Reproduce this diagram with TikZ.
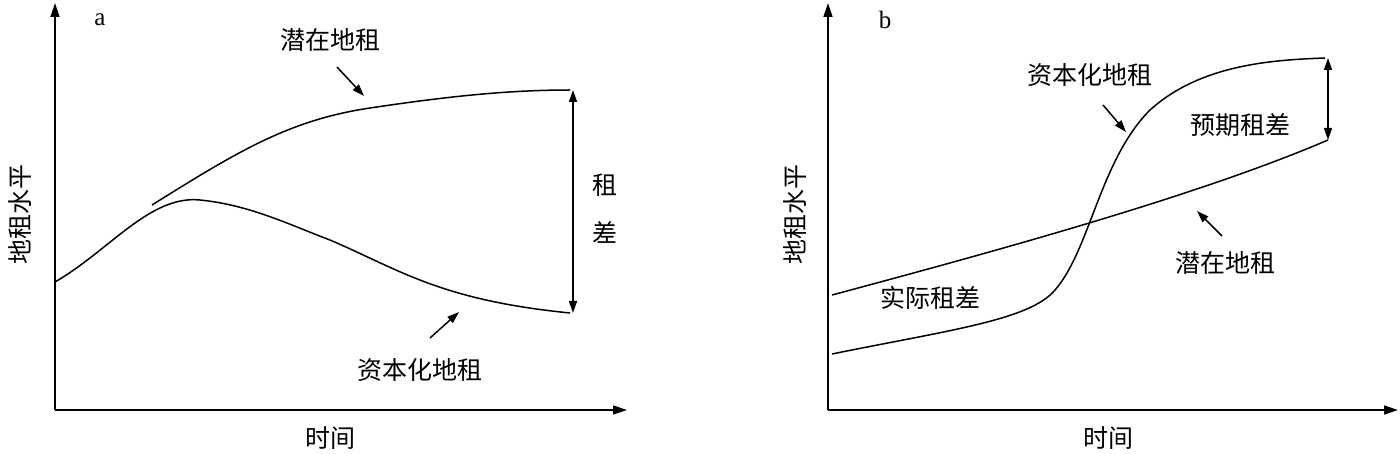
\documentclass[tikz,border=0pt]{standalone}
\usepackage{fontspec}
\setmainfont{Liberation Serif}
\newfontfamily\cjk{Noto Sans CJK SC}
\usetikzlibrary{arrows.meta}
\begin{document}
\begin{tikzpicture}[x=1pt,y=-1pt,
  ax/.style={line width=1.5pt,-{Triangle[length=14pt,width=9pt]}},
  cv/.style={line width=1.5pt},
  lb/.style={font=\cjk\fontsize{25}{25}\selectfont,inner sep=0pt},
  la/.style={font=\fontsize{25}{25}\selectfont,inner sep=0pt},
  pt/.style={line width=1.5pt,-{Triangle[length=12pt,width=8pt]}},
  dbl/.style={line width=1.5pt,{Triangle[length=12pt,width=8pt]}-{Triangle[length=12pt,width=8pt]}}]
\useasboundingbox (0,0) rectangle (1400,454);
% panel a
\coordinate (ao) at (55,410);
\coordinate (ay) at (55,3);
\coordinate (ax) at (627,410);
\draw[ax] (ao) -- (ay);
\draw[ax] (ao) -- (ax);
\node[la] (alab) at (100,20) {a};
\node[lb,rotate=90] (ayl) at (20,215) {地租水平};
\node[lb] (axl) at (330,438) {时间};
\coordinate (p1) at (152,205);
\coordinate (p2) at (570,90);
\draw[cv] (p1) .. controls (240,150) and (290,120) .. (370,108) .. controls (450,96) and (510,90) .. (p2);
\coordinate (c1) at (55,282);
\coordinate (c2) at (570,313);
\draw[cv] (c1) .. controls (110,250) and (150,195) .. (200,200) .. controls (250,205) and (290,225) .. (330,240) .. controls (400,270) and (440,300) .. (c2);
\coordinate (d1) at (573,90);
\coordinate (d2) at (573,313);
\draw[dbl] (d1) -- (d2);
\node[lb] (zu) at (605,185) {租};
\node[lb] (cha) at (605,232) {差};
\node[lb] (qa) at (330,40) {潜在地租};
\coordinate (qa1) at (337,67);
\coordinate (qa2) at (364,96);
\draw[pt] (qa1) -- (qa2);
\node[lb] (za) at (420,370) {资本化地租};
\coordinate (za1) at (430,338);
\coordinate (za2) at (459,312);
\draw[pt] (za1) -- (za2);
% panel b
\coordinate (bo) at (828,410);
\coordinate (by) at (828,3);
\coordinate (bx) at (1398,410);
\draw[ax] (bo) -- (by);
\draw[ax] (bo) -- (bx);
\node[la] (blab) at (885,20) {b};
\node[lb,rotate=90] (byl) at (795,215) {地租水平};
\node[lb] (bxl) at (1108,438) {时间};
\coordinate (q1) at (832,295);
\coordinate (q2) at (1328,140);
\draw[cv] (q1) .. controls (1000,250) and (1200,195) .. (q2);
\coordinate (s1) at (832,354);
\coordinate (s2) at (1325,58);
\draw[cv] (s1) .. controls (950,330) and (1030,320) .. (1055,290) .. controls (1090,250) and (1100,160) .. (1150,110) .. controls (1200,65) and (1270,60) .. (s2);
\coordinate (e1) at (1328,58);
\coordinate (e2) at (1328,140);
\draw[dbl] (e1) -- (e2);
\node[lb] (zb) at (1090,75) {资本化地租};
\coordinate (zb1) at (1103,105);
\coordinate (zb2) at (1126,132);
\draw[pt] (zb1) -- (zb2);
\node[lb] (yq) at (1240,125) {预期租差};
\node[lb] (qb) at (1225,263) {潜在地租};
\coordinate (qb1) at (1222,236);
\coordinate (qb2) at (1197,211);
\draw[pt] (qb1) -- (qb2);
\node[lb] (sj) at (930,298) {实际租差};
\end{tikzpicture}
\end{document}
